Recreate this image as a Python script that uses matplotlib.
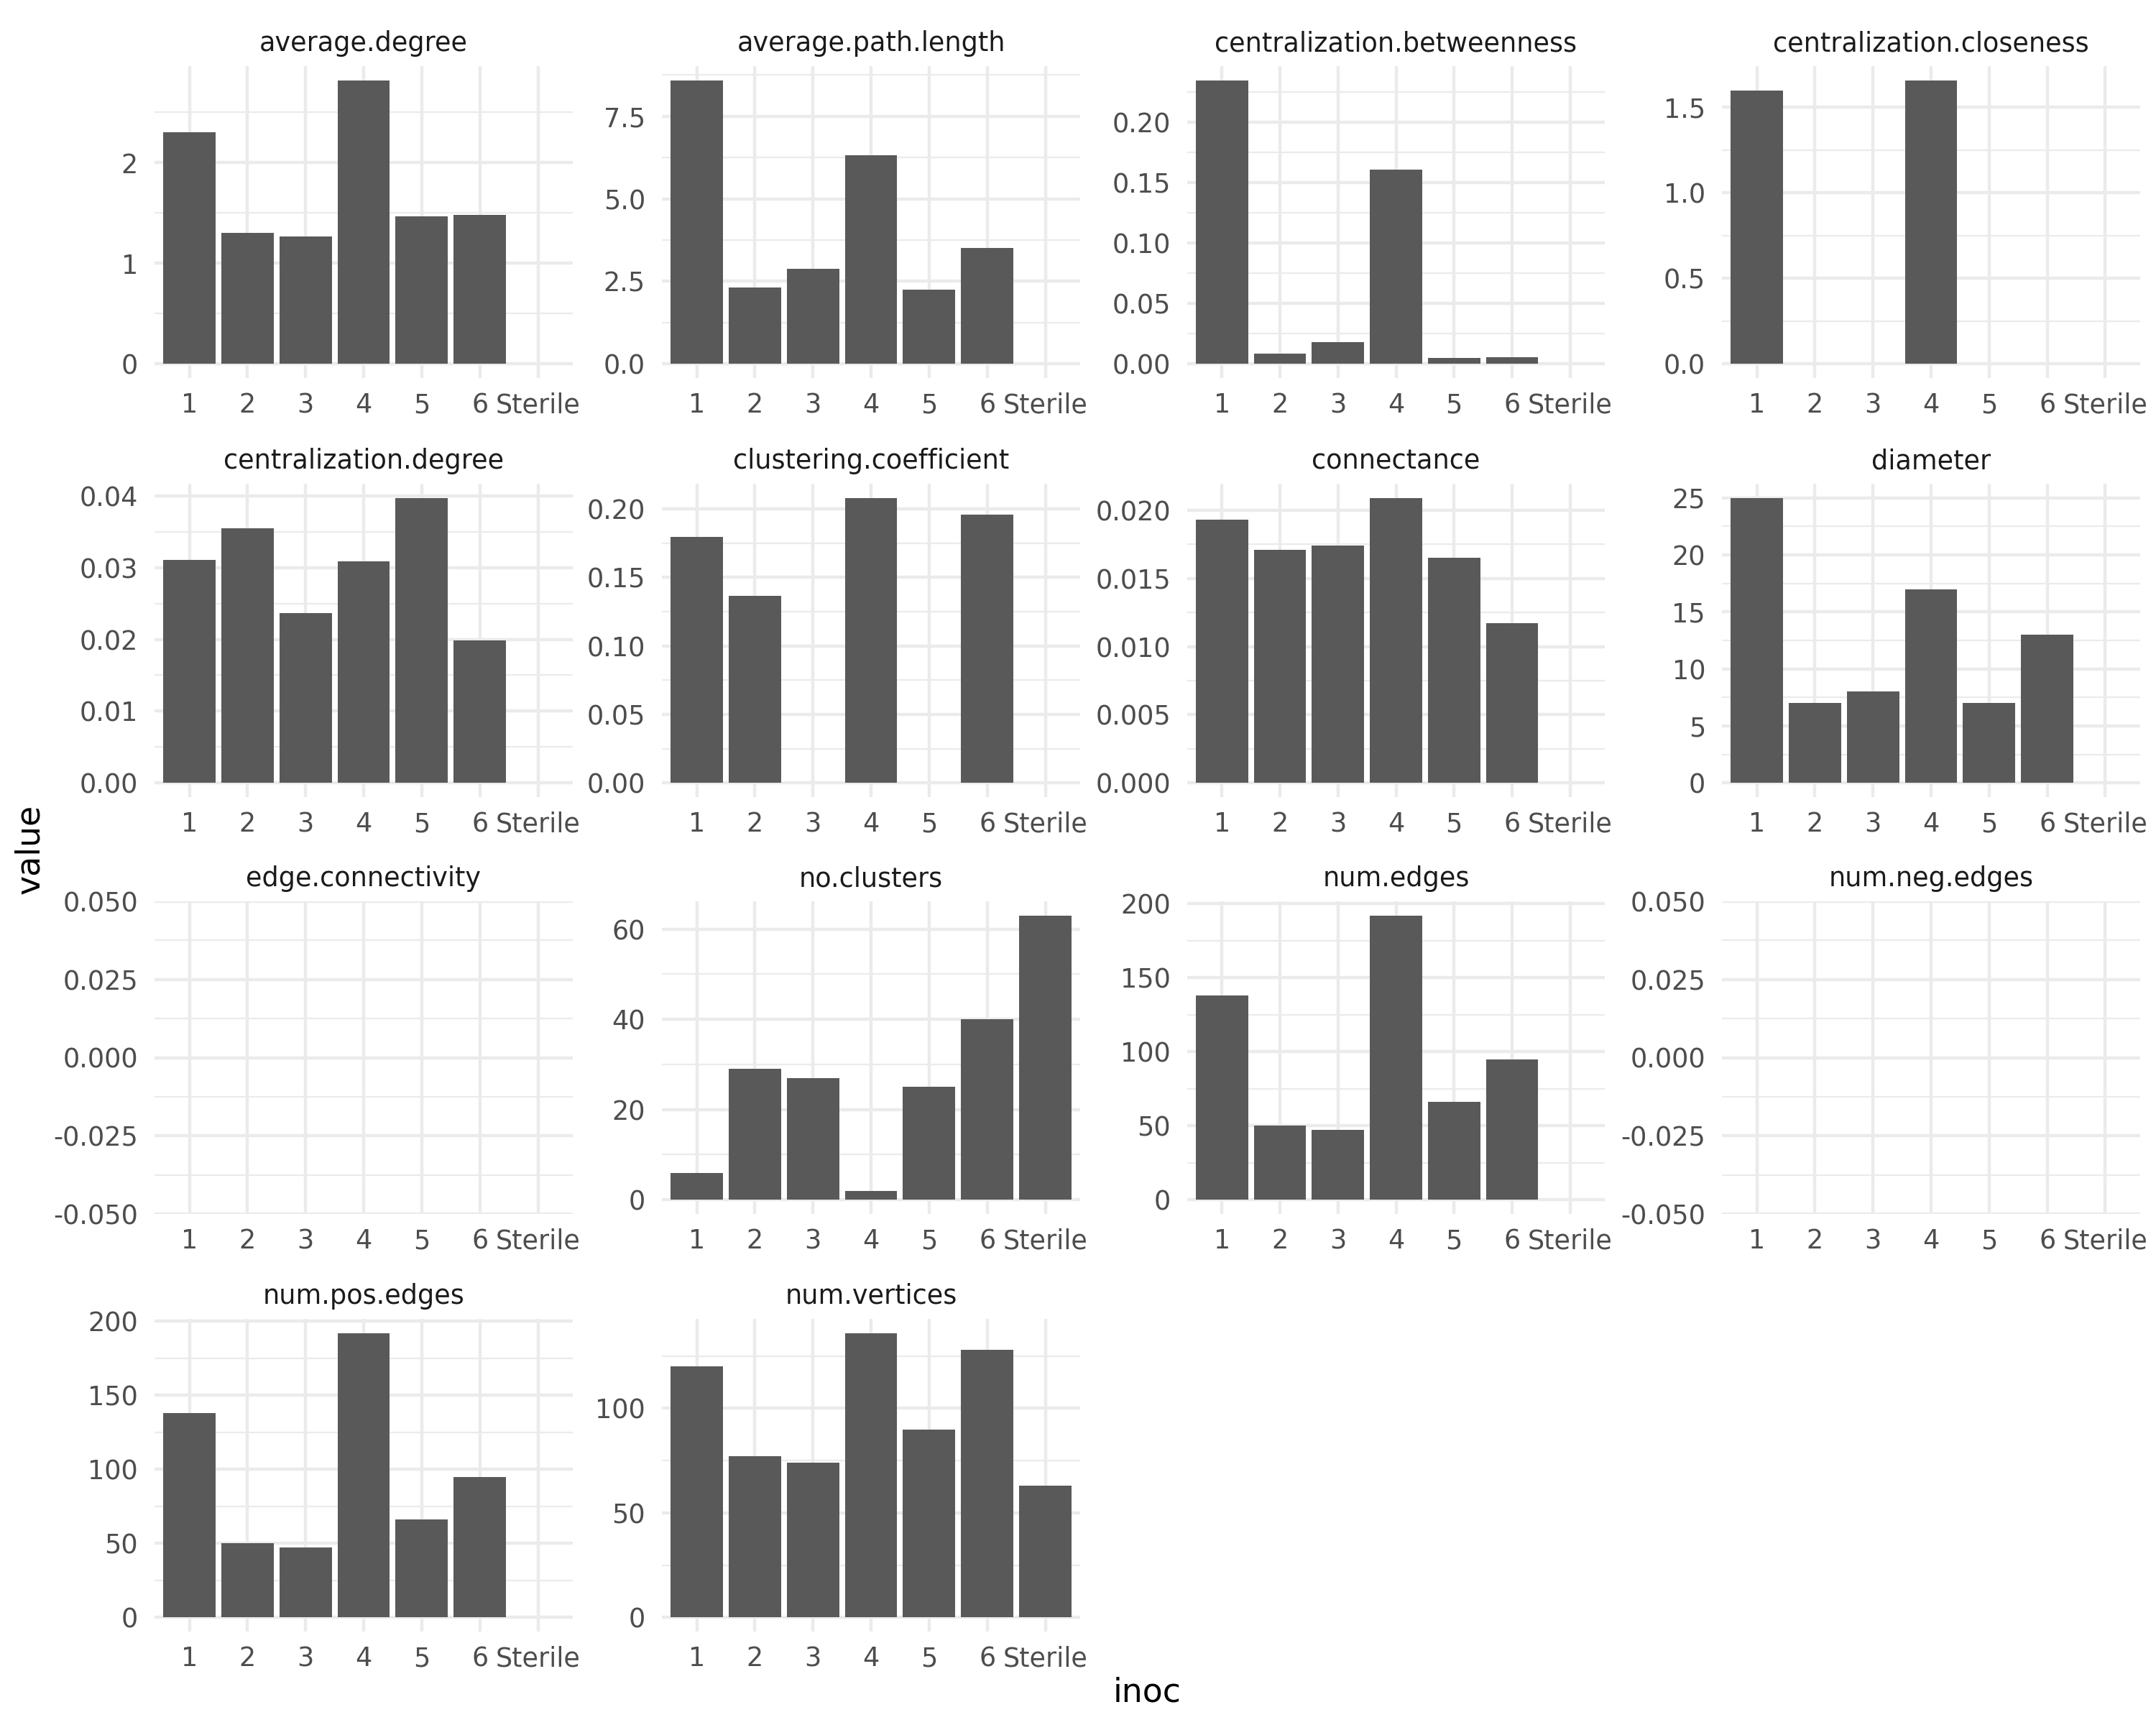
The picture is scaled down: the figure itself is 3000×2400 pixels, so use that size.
import numpy as np
import matplotlib.pyplot as plt

# inoculum levels on the x axis
inoc = ['1', '2', '3', '4', '5', '6', 'Sterile']
nan = np.nan

# network properties (one value per inoc level)
average_degree = [2.30, 1.30, 1.27, 2.82, 1.47, 1.48, nan]
average_path_length = [8.59, 2.31, 2.89, 6.31, 2.25, 3.51, nan]
centralization_betweenness = [0.2348, 0.0082, 0.018, 0.161, 0.005, 0.0057, nan]
centralization_closeness = [1.596, nan, nan, 1.657, nan, nan, nan]
centralization_degree = [0.0311, 0.0355, 0.0237, 0.0309, 0.0397, 0.0198, nan]
clustering_coefficient = [0.1794, 0.1363, nan, 0.208, nan, 0.1957, nan]
connectance = [0.0193, 0.0171, 0.0174, 0.0209, 0.0165, 0.0117, nan]
diameter = [25, 7, 8, 17, 7, 13, nan]
edge_connectivity = [0, 0, 0, 0, 0, 0, 0]
no_clusters = [6, 29, 27, 2, 25, 40, 63]
num_edges = [138, 50, 47, 192, 66, 95, nan]
num_neg_edges = [0, 0, 0, 0, 0, 0, 0]
num_pos_edges = [138, 50, 47, 192, 66, 95, nan]
num_vertices = [120, 77, 74, 136, 90, 128, 63]

# y breaks for each facet
panels = [
    ('average.degree', average_degree, [0, 1, 2]),
    ('average.path.length', average_path_length, [0, 2.5, 5, 7.5]),
    ('centralization.betweenness', centralization_betweenness, [0, 0.05, 0.10, 0.15, 0.20]),
    ('centralization.closeness', centralization_closeness, [0, 0.5, 1.0, 1.5]),
    ('centralization.degree', centralization_degree, [0, 0.01, 0.02, 0.03, 0.04]),
    ('clustering.coefficient', clustering_coefficient, [0, 0.05, 0.10, 0.15, 0.20]),
    ('connectance', connectance, [0, 0.005, 0.010, 0.015, 0.020]),
    ('diameter', diameter, [0, 5, 10, 15, 20, 25]),
    ('edge.connectivity', edge_connectivity, [-0.05, -0.025, 0, 0.025, 0.05]),
    ('no.clusters', no_clusters, [0, 20, 40, 60]),
    ('num.edges', num_edges, [0, 50, 100, 150, 200]),
    ('num.neg.edges', num_neg_edges, [-0.05, -0.025, 0, 0.025, 0.05]),
    ('num.pos.edges', num_pos_edges, [0, 50, 100, 150, 200]),
    ('num.vertices', num_vertices, [0, 50, 100]),
]

W, H = 3000, 2400
cols = [(215, 797), (921, 1503), (1652, 2233), (2396, 2978)]
rows = [(92, 526), (673, 1109), (1254, 1689), (1835, 2270)]

grid_col = '#EBEBEB'
bar_col = '#595959'


def fmt_labels(ticks):
    for d in range(6):
        if all(abs(round(t, d) - t) < 1e-9 for t in ticks):
            return [f'{t:.{d}f}' for t in ticks]
    return [str(t) for t in ticks]


fig = plt.figure(figsize=(10, 8))

for i, (name, vals, breaks) in enumerate(panels):
    l, r = cols[i % 4]
    t, b = rows[i // 4]
    ax = fig.add_axes([l / W, 1 - b / H, (r - l) / W, (b - t) / H])

    x = np.arange(1, len(inoc) + 1)
    v = np.array(vals, dtype=float)
    ok = np.isfinite(v)

    lo = min(0, np.nanmin(v))
    hi = max(0, np.nanmax(v))
    if hi - lo == 0:
        ylim = (-0.05, 0.05)
    else:
        span = hi - lo
        ylim = (lo - 0.05 * span, hi + 0.05 * span)

    ax.bar(x[ok], v[ok], width=0.9, color=bar_col, linewidth=0, zorder=3)

    ax.set_xlim(0.4, len(inoc) + 0.6)
    ax.set_ylim(*ylim)
    ax.set_xticks(x)
    ax.set_xticklabels(inoc)
    ax.set_yticks(breaks)
    ax.set_yticklabels(fmt_labels(breaks))
    step = breaks[1] - breaks[0]
    minors = np.arange(breaks[0] - step / 2, breaks[-1] + step, step)
    minors = [m for m in minors if ylim[0] <= m <= ylim[1]]
    ax.set_yticks(minors, minor=True)

    ax.grid(axis='x', which='major', color=grid_col, linewidth=1.07, zorder=0)
    ax.grid(axis='y', which='major', color=grid_col, linewidth=1.07, zorder=0)
    ax.grid(axis='y', which='minor', color=grid_col, linewidth=0.53, zorder=0)
    ax.set_axisbelow(True)
    for s in ax.spines.values():
        s.set_visible(False)
    ax.tick_params(axis='both', which='both', length=0, labelsize=8.8,
                   labelcolor='#4D4D4D')
    ax.tick_params(axis='x', pad=4.6)
    ax.tick_params(axis='y', pad=5.5)

    # facet strip label
    fig.text((l + r) / 2 / W, 1 - (t - 21) / H, name, ha='center',
             va='baseline', fontsize=8.8, color='#1A1A1A')

fig.text(1596 / W, 1 - 2368 / H, 'inoc', ha='center', va='baseline', fontsize=11)
fig.text(42 / W, 1 - 1181 / H, 'value', ha='center', va='center',
         rotation=90, fontsize=11)

plt.savefig('out.png', dpi=300, facecolor='white')
